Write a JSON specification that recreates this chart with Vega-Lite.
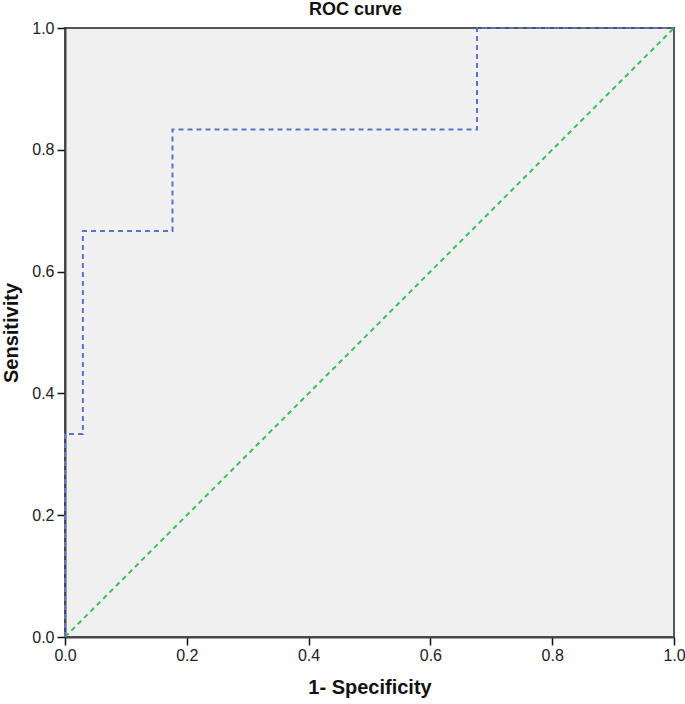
{
  "$schema": "https://vega.github.io/schema/vega-lite/v6.json",
  "autosize": "none",
  "width": 609,
  "height": 609,
  "padding": {"left": 65, "top": 28, "right": 11, "bottom": 67},
  "background": "white",
  "title": {"text": "ROC curve", "font": "Liberation Sans", "fontSize": 18, "fontWeight": "bold", "color": "#111", "offset": 1, "anchor": "middle", "dx": -14},
  "config": {
    "view": {"fill": "#f0f0f0", "stroke": "#555", "strokeWidth": 2},
    "axis": {
      "grid": false,
      "domainColor": "#444",
      "domainWidth": 2,
      "tickColor": "#111",
      "tickWidth": 1.5,
      "tickSize": 8,
      "labelFlush": false,
      "labelOverlap": false,
      "labelFont": "Liberation Sans",
      "labelFontSize": 16,
      "labelColor": "#222",
      "titleFont": "Liberation Sans",
      "titleFontSize": 20,
      "titleFontWeight": "bold",
      "titleColor": "#111"
    }
  },
  "datasets": {
    "roc": [
      {"fpr": 0, "tpr": 0},
      {"fpr": 0, "tpr": 0.3333},
      {"fpr": 0.0294, "tpr": 0.3333},
      {"fpr": 0.0294, "tpr": 0.6667},
      {"fpr": 0.1765, "tpr": 0.6667},
      {"fpr": 0.1765, "tpr": 0.8333},
      {"fpr": 0.6765, "tpr": 0.8333},
      {"fpr": 0.6765, "tpr": 1},
      {"fpr": 1, "tpr": 1}
    ],
    "ref": [
      {"fpr": 0, "tpr": 0},
      {"fpr": 1, "tpr": 1}
    ]
  },
  "layer": [
    {
      "data": {"name": "ref"},
      "mark": {"type": "line", "color": "#3cc055", "strokeWidth": 2, "strokeDash": [5, 4], "clip": true},
      "encoding": {
        "x": {"field": "fpr", "type": "quantitative", "scale": {"domain": [0, 1], "nice": false}, "axis": {"values": [0, 0.2, 0.4, 0.6, 0.8, 1], "format": ".1f", "title": "1- Specificity", "titlePadding": 14, "labelPadding": 2}},
        "y": {"field": "tpr", "type": "quantitative", "scale": {"domain": [0, 1], "nice": false}, "axis": {"values": [0, 0.2, 0.4, 0.6, 0.8, 1], "format": ".1f", "title": "Sensitivity", "titlePadding": 10, "labelPadding": 3}}
      }
    },
    {
      "data": {"name": "roc"},
      "mark": {"type": "line", "color": "#5a72cc", "strokeWidth": 2, "strokeDash": [5, 4], "clip": false},
      "encoding": {
        "x": {"field": "fpr", "type": "quantitative"},
        "y": {"field": "tpr", "type": "quantitative"},
        "order": {"value": 0}
      }
    }
  ]
}
